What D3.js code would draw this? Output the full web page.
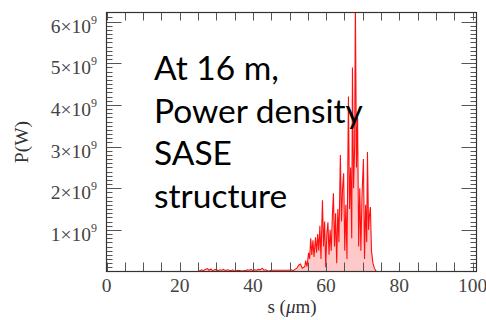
<!DOCTYPE html>
<html><head><meta charset="utf-8">
<script src="https://cdn.jsdelivr.net/npm/d3@7"></script>
<style>html,body{margin:0;padding:0;background:#fff;}svg{display:block;}</style>
</head><body>
<svg id="c" width="486" height="320"></svg>
<script>
// s in micrometres
const sValues = [25.0,25.5,26.0,26.5,27.0,27.6,28.0,28.5,29.0,29.5,30.0,30.5,31.0,31.5,32.0,32.5,33.0,33.5,34.0,34.5,35.0,35.5,36.0,37.0,38.0,38.5,39.0,39.5,40.0,40.5,41.0,41.5,42.0,42.6,43.0,43.5,44.0,44.5,45.0,46.0,47.0,48.0,49.0,50.0,50.5,51.0,51.5,52.0,52.5,53.0,53.5,53.9,54.2,54.4,54.8,55.2,55.5,55.8,56.1,56.4,56.7,57.1,57.4,57.7,58.0,58.3,58.6,59.0,59.3,59.6,59.9,60.2,60.5,60.8,61.1,61.4,61.7,62.0,62.3,62.6,62.9,63.2,63.5,63.9,64.2,64.5,64.8,65.1,65.4,65.7,66.1,66.4,66.7,67.0,67.2,67.5,67.8,68.0,68.3,68.6,68.9,69.2,69.5,69.8,70.2,70.5,70.8,71.1,71.3,71.6,71.8,72.1,72.4,72.8,73.2,73.6,74.0];
// power in units of 1e9 W
const pValues = [0,0.02,0.04,0.02,0.05,0.07,0.03,0.06,0.02,0.04,0.05,0.02,0.04,0.03,0.05,0.02,0.04,0.03,0.02,0.04,0.01,0.02,0.03,0.01,0.02,0.04,0.03,0.05,0.02,0.04,0.03,0.05,0.04,0.08,0.03,0.04,0.02,0.01,0.03,0.03,0.03,0.03,0.03,0.03,0.04,0.02,0.05,0.08,0.15,0.18,0.08,0.1,0.12,0.26,0.12,0.45,0.3,0.8,0.4,0.75,0.35,0.82,0.45,0.9,0.5,1.1,0.3,1.71,0.6,1.2,0.1,0.9,1.18,0.4,1.0,0.5,1.3,1.88,0.6,1.4,0.2,1.5,0.7,2.8,1.2,2.0,2.36,0.5,1.6,0.3,4.2,1.5,2.5,0.8,4.9,2.0,3.0,6.5,2.5,3.7,0.6,2.0,0.5,1.8,2.7,0.3,1.6,0.7,2.87,1.0,1.3,1.55,0.5,0.2,0.08,0.01,0];
const xTickLabels = ["0","20","40","60","80","100"];
const xTickValues = [0,20,40,60,80,100];
const yTickValues = [1,2,3,4,5,6];
const yTickMantissa = ["1","2","3","4","5","6"];

const data = sValues.map((s,i)=>({s, p:pValues[i]}));
const svg = d3.select("#c");
const L=106.5, R=476.5, T=12.5, B=271.5;
const x = d3.scaleLinear().domain([0,100]).range([106.5,472.5]);
const y = d3.scaleLinear().domain([0,6.22]).range([B,T]);

const g = svg.append("g");
svg.append("clipPath").attr("id","cp").append("rect").attr("x",L).attr("y",T).attr("width",R-L).attr("height",B-T);
const plot = g.append("g").attr("clip-path","url(#cp)");
plot.append("path").datum(data)
  .attr("d", d3.area().x(d=>x(d.s)).y0(y(0)).y1(d=>y(d.p)))
  .attr("fill","rgba(255,60,60,0.28)");
plot.append("path").datum(data)
  .attr("d", d3.line().x(d=>x(d.s)).y(d=>y(d.p)))
  .attr("fill","none").attr("stroke","#ff0f0f").attr("stroke-width",1.1);

// ticks
const tickCol="#555";
d3.range(0,101,5).forEach(v=>{
  const px=Math.round(x(v))+0.5;
  g.append("line").attr("x1",px).attr("x2",px).attr("y1",B).attr("y2",B-9).attr("stroke",tickCol);
  g.append("line").attr("x1",px).attr("x2",px).attr("y1",T).attr("y2",T+8).attr("stroke",tickCol);
});
d3.range(0,62).map(i=>i/10).forEach(v=>{
  const major = Math.abs(v-Math.round(v))<1e-6;
  const len = major?15:6;
  const py=Math.round(y(v))+0.5;
  if(py<T||py>B) return;
  g.append("line").attr("x1",L).attr("x2",L+len).attr("y1",py).attr("y2",py).attr("stroke",tickCol);
  g.append("line").attr("x1",R).attr("x2",R-len).attr("y1",py).attr("y2",py).attr("stroke",tickCol);
});
// frame
g.append("rect").attr("x",L).attr("y",T).attr("width",R-L).attr("height",B-T).attr("fill","none").attr("stroke","#333").attr("stroke-width",1.2);

const serif="'Liberation Serif','DejaVu Serif',serif";
xTickValues.forEach((v,i)=>{
  g.append("text").attr("x",x(v)).attr("y",292).attr("text-anchor","middle")
   .attr("font-family",serif).attr("font-size",19.5).attr("fill","#444").text(xTickLabels[i]);
});
yTickValues.forEach((v,i)=>{
  const t = g.append("text").attr("x",97).attr("y",y(v)+11).attr("text-anchor","end")
   .attr("font-family",serif).attr("font-size",19.5).attr("fill","#444");
  t.append("tspan").text(yTickMantissa[i]+"×10");
  t.append("tspan").attr("font-size",12).attr("dy",-9).text("9");
});
g.append("text").attr("transform","translate(28,142) rotate(-90)").attr("text-anchor","middle")
  .attr("font-family",serif).attr("font-size",19.5).attr("fill","#333").text("P(W)");
const xt2 = g.append("text").attr("x",292).attr("y",313).attr("text-anchor","middle")
  .attr("font-family",serif).attr("font-size",19).attr("fill","#333");
xt2.append("tspan").text("s (");
xt2.append("tspan").attr("font-style","italic").text("μ");
xt2.append("tspan").text("m)");

const lines=["At 16 m,","Power density","SASE","structure"];
lines.forEach((s,i)=>{
  g.append("text").attr("x",154).attr("y",80+i*42.7).attr("font-family","Lato,'Open Sans',sans-serif")
   .attr("font-size",33.5).attr("fill","#000").text(s);
});
</script>
</body></html>
